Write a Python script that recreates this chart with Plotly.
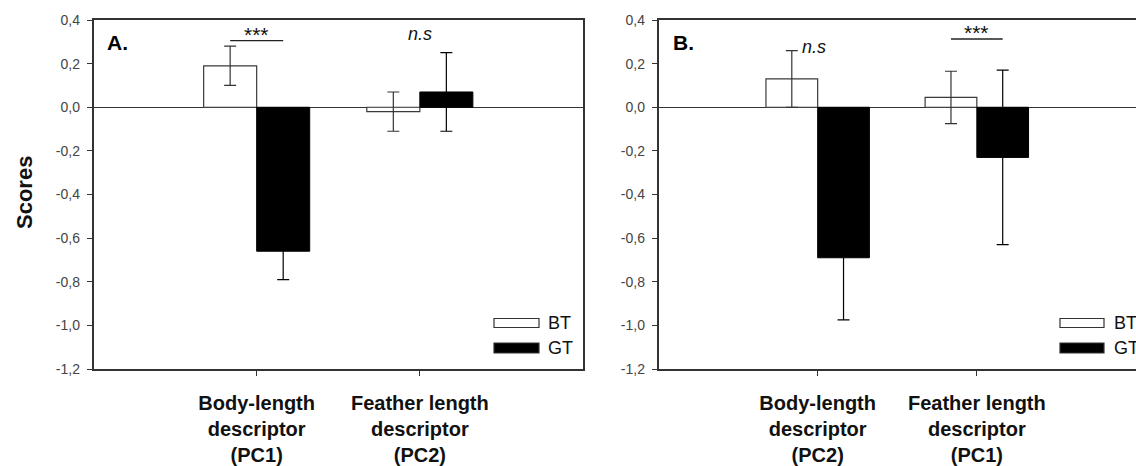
import plotly.graph_objects as go

# ---- data ----
cats_a = ["Body-length<br>descriptor<br>(PC1)", "Feather length<br>descriptor<br>(PC2)"]
cats_b = ["Body-length<br>descriptor<br>(PC2)", "Feather length<br>descriptor<br>(PC1)"]
series = ["BT", "GT"]
a_bt = [0.19, -0.02]
a_bt_err = [0.09, 0.09]
a_gt = [-0.66, 0.07]
a_gt_err = [0.13, 0.18]
b_bt = [0.13, 0.045]
b_bt_err = [0.13, 0.12]
b_gt = [-0.69, -0.23]
b_gt_err = [0.285, 0.40]
ytick_vals = [-1.2, -1.0, -0.8, -0.6, -0.4, -0.2, 0.0, 0.2, 0.4]
ytick_text = ["-1,2", "-1,0", "-0,8", "-0,6", "-0,4", "-0,2", "0,0", "0,2", "0,4"]
# significance labels: (category index, label, y of text, y of bar line or None, font size)
sig_a = [(0, "***", 0.335, 0.305, 21), (1, "<i>n.s</i>", 0.335, None, 18)]
sig_b = [(1, "***", 0.342, 0.313, 21)]

W, H = 1136, 466
ML, MR, MT, MB = 0, 0, 20, 97
BAR_W = 0.325
AX = "#333333"
FONT = "Liberation Sans, Arial"

def px_x(p):
    return p / (W - ML - MR)

def px_y(p):
    return (H - MB - p) / (H - MT - MB)

fig = go.Figure()

def add_panel(cats, bt, bt_err, gt, gt_err, xa, ya):
    fig.add_trace(go.Bar(x=cats, y=bt, name=series[0], xaxis=xa, yaxis=ya,
                         marker=dict(color="white", line=dict(color="#3a3a3a", width=1.2)),
                         error_y=dict(type="data", array=bt_err, color=AX, thickness=1.2, width=6),
                         offsetgroup="bt", showlegend=False))
    fig.add_trace(go.Bar(x=cats, y=gt, name=series[1], xaxis=xa, yaxis=ya,
                         marker=dict(color="black", line=dict(color="black", width=1)),
                         error_y=dict(type="data", array=gt_err, color="black", thickness=1.2, width=6),
                         offsetgroup="gt", showlegend=False))

add_panel(cats_a, a_bt, a_bt_err, a_gt, a_gt_err, "x", "y")
add_panel(cats_b, b_bt, b_bt_err, b_gt, b_gt_err, "x2", "y2")

xcommon = dict(type="category", range=[-1, 2], showline=True, linecolor=AX, linewidth=1.5,
               mirror=True, ticks="outside", ticklen=5, tickcolor=AX, showgrid=False,
               zeroline=False, automargin=False, ticklabelstandoff=10,
               tickfont=dict(family=FONT, size=20, color="#111111", weight="bold"))
ycommon = dict(range=[-1.2, 0.4], tickvals=ytick_vals, ticktext=ytick_text,
               showline=True, linecolor=AX, linewidth=1.5, ticks="outside", ticklen=5,
               tickcolor=AX, showgrid=False, zeroline=True, zerolinecolor=AX,
               zerolinewidth=1.2, automargin=False, ticklabelstandoff=4,
               tickfont=dict(family=FONT, size=14, color="#444444"))

fig.update_layout(
    width=W, height=H, margin=dict(l=ML, r=MR, t=MT, b=MB),
    plot_bgcolor="white", paper_bgcolor="white",
    barmode="group", bargap=1 - 2 * BAR_W, bargroupgap=0,
    xaxis=dict(domain=[px_x(93.5), px_x(583)], anchor="y", **xcommon),
    yaxis=dict(domain=[0, 1], anchor="x", mirror=True, **ycommon),
    xaxis2=dict(domain=[px_x(658.5), 1], anchor="y2", **xcommon),
    yaxis2=dict(domain=[0, 1], anchor="x2", mirror=False, **ycommon),
    showlegend=False,
)

ann = []
shapes = []

def add_sig(sigs, xr, yr):
    for i, label, ty, ly, fs in sigs:
        ann.append(dict(x=i, y=ty, xref=xr, yref=yr, text=label, showarrow=False,
                        xanchor="center", yanchor="middle",
                        font=dict(family=FONT, size=fs, color="#111111")))
        if ly is not None:
            shapes.append(dict(type="line", xref=xr, yref=yr, x0=i - BAR_W / 2, x1=i + BAR_W / 2,
                               y0=ly, y1=ly, line=dict(color="#222222", width=1.3)))

add_sig(sig_a, "x", "y")
add_sig(sig_b, "x2", "y2")
# n.s next to BT body error bar in panel B
ann.append(dict(x=-0.109, y=0.276, xref="x2", yref="y2", text="<i>n.s</i>", showarrow=False,
                xanchor="left", yanchor="middle", font=dict(family=FONT, size=18, color="#111111")))

# panel letters
for letter, lx in [("A.", 105), ("B.", 671)]:
    ann.append(dict(x=px_x(lx), y=px_y(42), xref="paper", yref="paper", text="<b>%s</b>" % letter,
                    showarrow=False, xanchor="left", yanchor="middle",
                    font=dict(family=FONT, size=21, color="black")))
# y title
ann.append(dict(x=px_x(24), y=px_y(193), xref="paper", yref="paper", text="<b>Scores</b>",
                textangle=-90, showarrow=False, xanchor="center", yanchor="middle",
                font=dict(family=FONT, size=22, color="#111111")))

# legends (drawn boxes)
def add_legend(x0, x1, xt):
    for name, cy, fill, h in [(series[0], 323, "white", 9), (series[1], 348, "black", 10)]:
        shapes.append(dict(type="rect", xref="paper", yref="paper",
                           x0=px_x(x0), x1=px_x(x1), y0=px_y(cy - h / 2), y1=px_y(cy + h / 2),
                           fillcolor=fill, line=dict(color="#333333", width=1.2)))
        ann.append(dict(x=px_x(xt), y=px_y(cy), xref="paper", yref="paper", text=name,
                        showarrow=False, xanchor="left", yanchor="middle",
                        font=dict(family=FONT, size=18, color="#111111")))

add_legend(494, 539, 546)
add_legend(1060, 1104, 1112)

fig.update_layout(annotations=ann, shapes=shapes)
fig.write_html("out.html", config={"displayModeBar": False},
               post_script="document.body.style.margin='0';document.body.style.overflow='hidden';")
